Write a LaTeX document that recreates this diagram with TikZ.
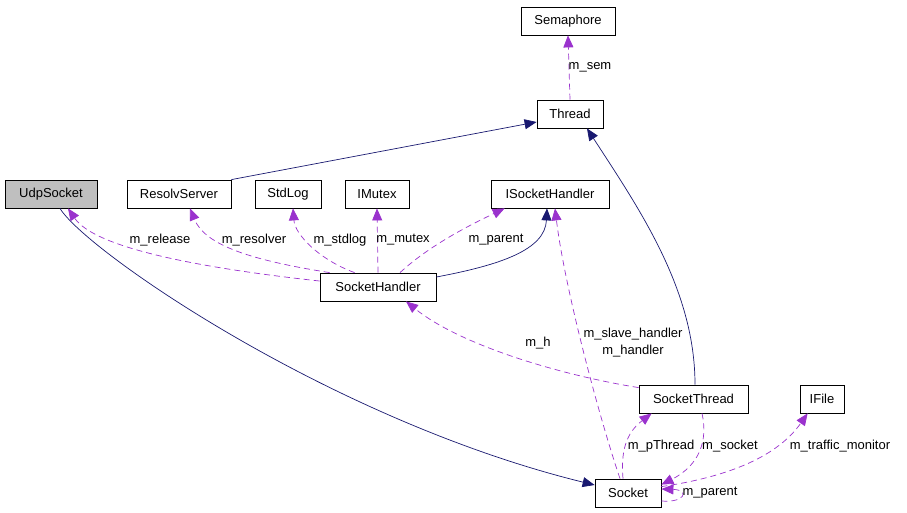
\documentclass[tikz,border=0pt]{standalone}
\usepackage{fontspec}
\setmainfont{Liberation Sans}
\usepackage{xcolor}
\usepackage{tikz}
\usetikzlibrary{arrows.meta}
\definecolor{usecol}{HTML}{9A32CD}
\definecolor{inhcol}{HTML}{191970}
\tikzset{
  classnode/.style = {align=center, inner sep=0pt, text centered,
    font=\fontsize{13}{17}\selectfont},
  cls_n/.style = {classnode, rectangle, draw=black, line width=0.8pt,
     minimum height=28pt},% class box
  cls_g/.style = {cls_n, fill=black!25},% the documented class, grey
  rel_i/.style = {->, draw=inhcol, line width=0.7pt},% inheritance, solid
  rel_u/.style = {->, draw=usecol, line width=0.7pt,
    dash pattern=on 6pt off 4pt},% usage, dashed
  rel_lbl/.style = {classnode}% member name
}

\begin{document}
\begin{tikzpicture}[x=1pt,y=-1pt,>={Triangle[length=12pt,width=10pt]}]
\useasboundingbox (0,0) rectangle (907,512);
\node [cls_n, minimum width=94pt] (sem) at (568,21) {Semaphore};
\node [cls_n, minimum width=66pt] (thr) at (570,114) {Thread};
\node [cls_g, minimum width=92pt] (udp) at (51,194) {UdpSocket};
\node [cls_n, minimum width=104pt] (res) at (179,194) {ResolvServer};
\node [cls_n, minimum width=66pt] (log) at (288,194) {StdLog};
\node [cls_n, minimum width=64pt] (mtx) at (377,194) {IMutex};
\node [cls_n, minimum width=118pt] (ish) at (550,194) {ISocketHandler};
\node [cls_n, minimum width=116pt] (sh) at (378,287) {SocketHandler};
\node [cls_n, minimum width=109pt] (st) at (693.5,399) {SocketThread};
\node [cls_n, minimum width=44pt] (ifl) at (822,399) {IFile};
\node [cls_n, minimum width=66pt] (sk) at (628,493) {Socket};

% inheritance
\draw [rel_i] (res.north east) -- ([yshift=-8pt]thr.west);
\draw [rel_i] ([xshift=1.5pt]st.north) .. controls (695,290) and (640,210) .. ([xshift=17pt]thr.south);
\draw [rel_i] ([xshift=9pt]udp.south) .. controls (85,250) and (330,420) .. ([yshift=8pt]sk.west);
\draw [rel_i] ([yshift=10pt]sh.east) .. controls (500,265) and (545,250) .. ([xshift=-3pt]ish.south);

% usage
\draw [rel_u] (thr.north) -- (sem.south);
\draw [rel_u] ([yshift=6pt]sh.west) .. controls (200,268) and (95,248) .. ([xshift=17pt]udp.south);
\draw [rel_u] ([xshift=10pt]sh.north west) .. controls (250,260) and (205,245) .. ([xshift=11pt]res.south);
\draw [rel_u] ([xshift=35pt]sh.north west) .. controls (320,260) and (295,235) .. ([xshift=5pt]log.south);
\draw [rel_u] (sh.north) -- (mtx.south);
\draw [rel_u] ([xshift=22pt]sh.north) .. controls (430,245) and (470,225) .. ([xshift=14pt]ish.south west);
\draw [rel_u] ([xshift=-8pt]sk.north) .. controls (600,420) and (565,290) .. ([xshift=5pt]ish.south);
\draw [rel_u] ([yshift=-3pt]st.north west) .. controls (560,375) and (460,345) .. ([xshift=28pt]sh.south);
\draw [rel_u] ([xshift=-5pt]sk.north) .. controls (620,445) and (630,430) .. ([xshift=13pt]st.south west);
\draw [rel_u] ([xshift=8.5pt]st.south) .. controls (708,440) and (700,465) .. ([yshift=-6pt]sk.north east);
\draw [rel_u] ([yshift=-8pt]sk.north east) .. controls (720,478) and (775,460) .. ([xshift=8pt]ifl.south west);
\draw [rel_u] ([yshift=-8pt]sk.east) .. controls (685,503) and (690,490) .. ([yshift=4pt]sk.east);

\node [rel_lbl] (l_sem) at (590,67) {m\_sem};
\node [rel_lbl] (l_rel) at (160,240) {m\_release};
\node [rel_lbl] (l_res) at (254,240) {m\_resolver};
\node [rel_lbl] (l_log) at (340,240) {m\_stdlog};
\node [rel_lbl] (l_mtx) at (403,240) {m\_mutex};
\node [rel_lbl] (l_par) at (496,240) {m\_parent};
\node [rel_lbl] (l_hdl) at (633,343) {m\_slave\_handler\\m\_handler};
\node [rel_lbl] (l_h) at (538,343) {m\_h};
\node [rel_lbl] (l_pth) at (661,446) {m\_pThread};
\node [rel_lbl] (l_sck) at (730,446) {m\_socket};
\node [rel_lbl] (l_tm) at (840,446) {m\_traffic\_monitor};
\node [rel_lbl] (l_skp) at (710,493) {m\_parent};
\end{tikzpicture}
\end{document}
